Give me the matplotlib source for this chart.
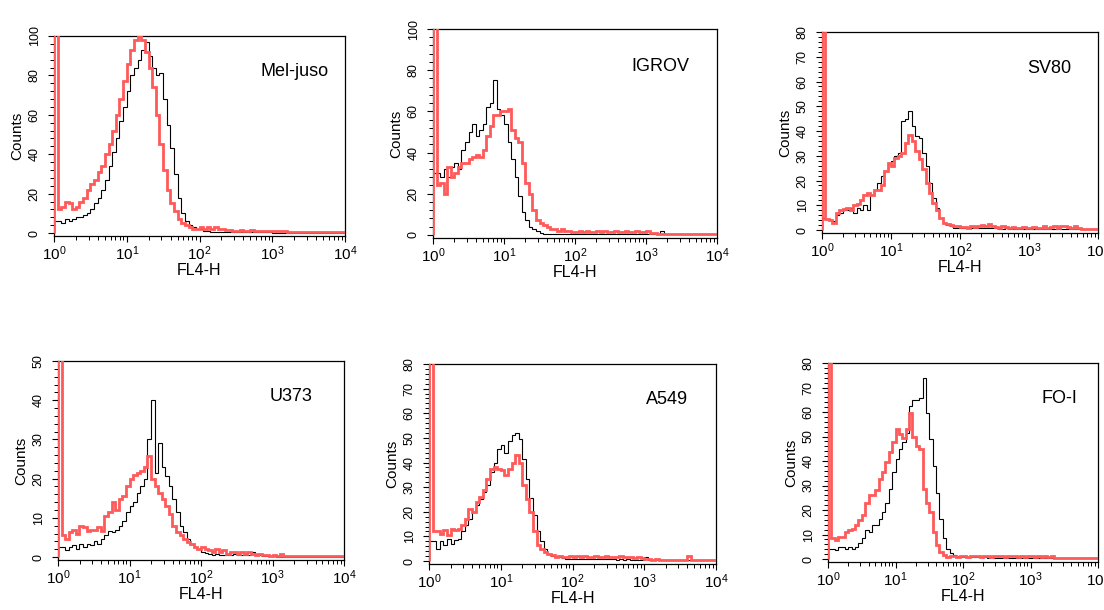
import numpy as np
import matplotlib
matplotlib.use('Agg')
import matplotlib.pyplot as plt
from matplotlib.ticker import FixedLocator, MultipleLocator, LogLocator, NullFormatter

plt.rcParams['font.family'] = ['Liberation Sans', 'DejaVu Sans']
plt.rcParams['mathtext.fontset'] = 'custom'
plt.rcParams['mathtext.rm'] = 'Liberation Sans'
plt.rcParams['mathtext.it'] = 'Liberation Sans:italic'
plt.rcParams['mathtext.bf'] = 'Liberation Sans:bold'

# log10(FL4-H) at the left edge of each histogram channel (0.05-decade channels)
log_channels = np.round(np.arange(0, 4.001, 0.05), 2)

cell_lines = ["Mel-juso", "IGROV", "SV80", "U373", "A549", "FO-I"]
y_max = [100, 100, 80, 50, 80, 80]
y_major_step = [20, 20, 10, 10, 10, 10]
y_minor_step = [4, 4, 2, 2, 2, 2]
x_tick_values = [1, 10, 100, 1000, 10000]
x_tick_labels = ["$10^{0}$", "$10^{1}$", "$10^{2}$", "$10^{3}$", "$10^{4}$"]

meljuso_red = [130, 12, 13, 16, 15, 12, 13, 16, 18, 22,
               25, 27, 31, 34, 40, 45, 52, 60, 68, 77,
               86, 93, 98, 100, 98, 92, 84, 74, 60, 45,
               32, 22, 15, 11, 7, 5, 4, 3, 2, 2,
               3, 2, 3, 2, 3, 2, 2, 1.5, 1.5, 1,
               1, 1.5, 1, 1, 1.5, 1, 1, 1, 1, 0.8,
               1, 0.8, 0.8, 1, 0.6, 0.6, 0.5, 0.5, 0.6, 0.5,
               0.5, 0.5, 0.5, 0.5, 0.5, 0.5, 0.5, 0.5, 0.5, 0.5,
               0.5]
meljuso_black = [6, 6, 5, 7, 6, 7, 8, 8, 9, 10,
                 12, 15, 18, 22, 27, 34, 41, 48, 57, 64,
                 72, 80, 84, 88, 93, 97, 90, 84, 80, 81,
                 68, 55, 43, 30, 18, 10, 6, 4, 3, 2,
                 2, 1, 1, 0.5, 0.5, 0.4, 0.4, 0.3, 0.3, 0.3,
                 0.3, 0.3, 0.3, 0.3, 0.3, 0.3, 0.3, 0.3, 0.3, 0.3,
                 0.2, 0.2, 0.2, 0.2, 0.2, 0.2, 0.2, 0.2, 0.2, 0.2,
                 0.2, 0.2, 0.2, 0.2, 0.2, 0.2, 0.2, 0.2, 0.2, 0.2,
                 0.2]

igrov_red = [110, 24, 25, 20, 33, 28, 30, 33, 35, 35,
             37, 38, 39, 38, 41, 48, 53, 58, 58, 60,
             60, 61, 51, 47, 45, 35, 25, 20, 12, 7,
             6, 5, 4, 3, 3, 2, 3, 2, 2, 1.5,
             1.5, 2, 1.5, 2, 1.5, 1.5, 2, 1.5, 2, 1.5,
             1.5, 2, 1.5, 1.5, 2, 1.5, 1.5, 2, 1.5, 1.5,
             2, 1, 0.8, 0.6, 0.5, 0.5, 0.5, 0.5, 0.5, 0.5,
             0.5, 0.5, 0.5, 0.5, 0.5, 0.5, 0.5, 0.5, 0.5, 0.5,
             0.5]
igrov_black = [30, 30, 28, 32, 28, 33, 35, 32, 41, 45,
               50, 54, 48, 51, 54, 62, 64, 75, 61, 58,
               54, 45, 37, 28, 19, 11, 7, 4, 3, 2,
               1, 0.5, 0.5, 0.4, 0.4, 0.3, 0.3, 0.3, 0.3, 0.3,
               0.3, 0.3, 0.3, 0.3, 0.3, 0.3, 0.3, 0.3, 0.3, 0.3,
               0.3, 0.3, 0.3, 0.3, 0.3, 0.3, 0.3, 0.3, 0.3, 0.3,
               0.3, 0.3, 0.3, 0.3, 2, 0.3, 0.3, 0.3, 0.3, 0.3,
               0.3, 0.3, 0.3, 0.3, 0.3, 0.3, 0.3, 0.3, 0.3, 0.3,
               0.3]

sv80_red = [100, 4.4, 4, 3, 7, 8, 8.5, 9, 8, 10,
            10.5, 12, 14, 15, 14, 16, 16, 18, 24, 27,
            26, 29, 30, 31, 35, 38.5, 36, 32, 28.5, 24.5,
            19, 15, 11, 8, 5, 3, 2.4, 2, 1.8, 1.5,
            1.2, 1.2, 1, 1.5, 1.2, 1.5, 2, 1.5, 2.4, 1.5,
            1.2, 1, 1.5, 1.2, 1, 1.2, 1, 1, 1.2, 0.8,
            1, 1.2, 0.8, 1, 1.5, 1, 1.2, 1.8, 1, 1.5,
            1.8, 1.2, 1, 1.5, 0.8, 0.6, 0.5, 0.5, 0.5, 0.5,
            0.5]
sv80_black = [5, 4.4, 4, 3.5, 6, 7, 8, 8, 9, 7,
              9, 8, 10, 8, 14, 16, 19, 22, 24, 27,
              28, 30, 31, 44, 45, 48, 42, 38, 37, 31,
              26, 19, 13, 9, 5, 3, 2, 1.5, 1, 1,
              0.8, 1, 0.8, 1, 0.8, 0.8, 1, 0.8, 1, 0.8,
              0.8, 0.6, 0.6, 0.8, 0.6, 0.5, 0.5, 0.6, 0.5, 0.5,
              0.5, 0.5, 0.5, 0.5, 0.5, 0.5, 0.5, 0.5, 0.5, 0.5,
              0.4, 0.4, 0.4, 0.4, 0.4, 0.4, 0.4, 0.4, 0.4, 0.4,
              0.4]

u373_red = [60, 5.5, 4.6, 6.3, 7, 6, 8, 7.6, 6.7, 7,
            7, 7.6, 6.7, 10.5, 11.4, 14, 12, 14.8, 15.6, 18,
            20, 21, 21.5, 22, 23, 25.7, 19.8, 18, 16.4, 14.8,
            13, 11, 8, 6.3, 5.5, 4.6, 3.8, 3.4, 2.5, 2.1,
            2.5, 2.1, 1.7, 1.3, 2.1, 1.3, 1.7, 0.8, 1.3, 1.3,
            0.8, 1.3, 0.8, 1.3, 0.8, 0.4, 0.8, 0.4, 0.4, 0.2,
            0.4, 0.2, 0.8, 0.2, 0.2, 0.2, 0.2, 0.2, 0.2, 0.2,
            0.2, 0.2, 0.2, 0.2, 0.2, 0.2, 0.2, 0.2, 0.2, 0.2,
            0.2]
u373_black = [2.5, 2.5, 1.7, 2.5, 3, 2.1, 3.4, 2.5, 3.4, 3,
              4.2, 3.4, 4.6, 5.5, 6.7, 6.3, 7, 8, 9.3, 11.4,
              13, 14, 16.4, 18, 19.8, 30, 40, 21.5, 29, 23,
              20.7, 18, 14.8, 11.4, 8, 6.3, 4.6, 3.4, 2.5, 2.1,
              1.3, 1, 0.8, 0.6, 0.8, 0.5, 0.6, 0.5, 0.6, 0.8,
              0.5, 0.6, 0.5, 0.5, 1.3, 0.5, 0.4, 0.3, 0.3, 0.3,
              0.3, 0, 0, 0, 0, 0, 0, 0, 0, 0,
              0, 0, 0, 0, 0, 0, 0, 0, 0, 0,
              0]

a549_red = [100, 12, 12, 11, 12.5, 10.5, 13, 12.5, 13, 14.6,
            17, 21, 20, 24, 26, 29, 33.5, 37.5, 38, 37.5,
            37, 35, 37.5, 40, 43, 40, 31, 25, 20, 12,
            6.5, 5, 3.8, 3, 2.4, 1.8, 2.2, 1.7, 1.7, 2.2,
            1.7, 2, 1.5, 2, 1.7, 1.5, 2, 1.5, 1.7, 2,
            1.5, 1.7, 1.5, 2, 1.5, 1.5, 1.7, 1.2, 1.5, 1.2,
            1, 0.8, 0.6, 0.8, 0.6, 0.5, 0.6, 0.5, 0.5, 0.6,
            0.5, 0.5, 2, 0.6, 0.5, 0.5, 0.5, 0.5, 0.5, 0.5,
            0.5]
a549_black = [8, 8, 5, 8, 6.5, 9, 7, 8.5, 9, 12,
              14.6, 17, 20, 22.7, 25, 28, 31, 36, 40, 45.6,
              47, 44, 48.6, 51, 52, 49.7, 41.6, 33.5, 25.4, 18.6,
              12, 8, 5, 3, 2.2, 1.8, 1.5, 1.2, 1, 1,
              1, 0.8, 1, 0.8, 1, 0.8, 0.8, 1, 0.8, 0.8,
              0.8, 0.8, 0.6, 0.8, 0.6, 0.8, 0.6, 0.6, 0.6, 0.6,
              1.5, 0.5, 0.4, 0.4, 0.4, 0.4, 0.4, 0.4, 0.4, 0.4,
              0.3, 0.3, 0.3, 0.3, 0.3, 0.3, 0.3, 0.3, 0.3, 0.3,
              0.3]

foi_red = [100, 8.4, 7.7, 9, 9, 11, 11.8, 12.4, 13.8, 15.8,
           17.8, 23, 26, 26, 28, 32.7, 35.4, 39.5, 43.5, 47.6,
           53, 51, 49.6, 53, 59.7, 50, 46, 45, 28.6, 23,
           19, 11, 5.7, 3, 1.6, 1, 1.4, 1.2, 1, 1.2,
           1.4, 1, 1.2, 1.4, 1.2, 1, 1.2, 1.4, 1, 1.2,
           1.4, 1.2, 1, 1.2, 1.4, 1.2, 1, 1.2, 1, 1.2,
           1.2, 1, 1.2, 1, 1.2, 1, 1.2, 0.5, 0.4, 0.3,
           0.3, 0.3, 0.3, 0.3, 0.3, 0.3, 0.3, 0.3, 0.3, 0.3,
           0.3]
foi_black = [4.3, 4.3, 3.6, 5, 5, 4.3, 5, 4.3, 5, 6.4,
             8.4, 11.8, 11, 13.8, 13.8, 16.5, 19, 23, 28.6, 35.4,
             40.8, 45, 47.6, 51.6, 62.4, 65, 65, 65.8, 74, 59.7,
             49, 38, 27, 16.5, 8.4, 4.3, 2.3, 1.6, 1.2, 0.8,
             0.8, 1, 0.8, 0.8, 1, 0.8, 0.8, 0.6, 0.8, 0.6,
             0.6, 0.6, 0.6, 0.6, 0.6, 0.6, 0.6, 0.6, 0.6, 0.6,
             0.4, 0.4, 0.4, 0.4, 0.4, 0.4, 0.4, 0.4, 0.4, 0.4,
             0.4, 0.4, 0.4, 0.4, 0.4, 0.4, 0.4, 0.4, 0.4, 0.4,
             0.4]

red_series = [meljuso_red, igrov_red, sv80_red, u373_red, a549_red, foi_red]
black_series = [meljuso_black, igrov_black, sv80_black, u373_black, a549_black, foi_black]

# axes boxes in pixels: left, right, top, bottom
boxes = [(54, 345, 36, 236), (433, 717, 29, 238), (822, 1098, 32, 233),
         (58, 344, 361, 560), (429, 716, 364, 564), (828, 1098, 363, 562)]
label_x = [0.71, 0.70, 0.745, 0.74, 0.755, 0.79]

W, H = 1104, 610
fig = plt.figure(figsize=(W / 100, H / 100), dpi=100)

RED = '#ff5a5a'
edges = 10 ** np.append(log_channels, 4.05)

for i, name in enumerate(cell_lines):
    l, r, t, b = boxes[i]
    ax = fig.add_axes([l / W, (H - b) / H, (r - l) / W, (b - t) / H])
    ax.stairs(black_series[i], edges, baseline=0, color='black', lw=0.8, zorder=2)
    ax.stairs(red_series[i], edges, baseline=0, color=RED, lw=2.0, zorder=3)
    ax.set_xscale('log')
    ax.set_xlim(1, 10000)
    ax.set_ylim(-0.015 * y_max[i], y_max[i])
    ax.xaxis.set_major_locator(FixedLocator(x_tick_values))
    ax.set_xticklabels(x_tick_labels, fontsize=11)
    ax.xaxis.set_minor_locator(LogLocator(base=10, subs=np.arange(2, 10)))
    ax.xaxis.set_minor_formatter(NullFormatter())
    ax.yaxis.set_major_locator(MultipleLocator(y_major_step[i]))
    ax.yaxis.set_minor_locator(MultipleLocator(y_minor_step[i]))
    for lab in ax.get_yticklabels():
        lab.set_rotation(90)
        lab.set_va('center')
        lab.set_fontsize(9)
    ax.tick_params(which='major', direction='out', length=4.5, width=0.8)
    ax.tick_params(which='minor', direction='out', length=2.8, width=0.7)
    ax.tick_params(axis='y', which='major', pad=5)
    ax.tick_params(axis='x', which='major', pad=1.5)
    for s in ax.spines.values():
        s.set_linewidth(0.9)
    ax.set_ylabel('Counts', fontsize=11, labelpad=3)
    ax.set_xlabel('FL4-H', fontsize=11.5, labelpad=0)
    ax.text(label_x[i], 0.82, name, transform=ax.transAxes, fontsize=13,
            ha='left', va='center')

fig.savefig('out.png', dpi=100)
